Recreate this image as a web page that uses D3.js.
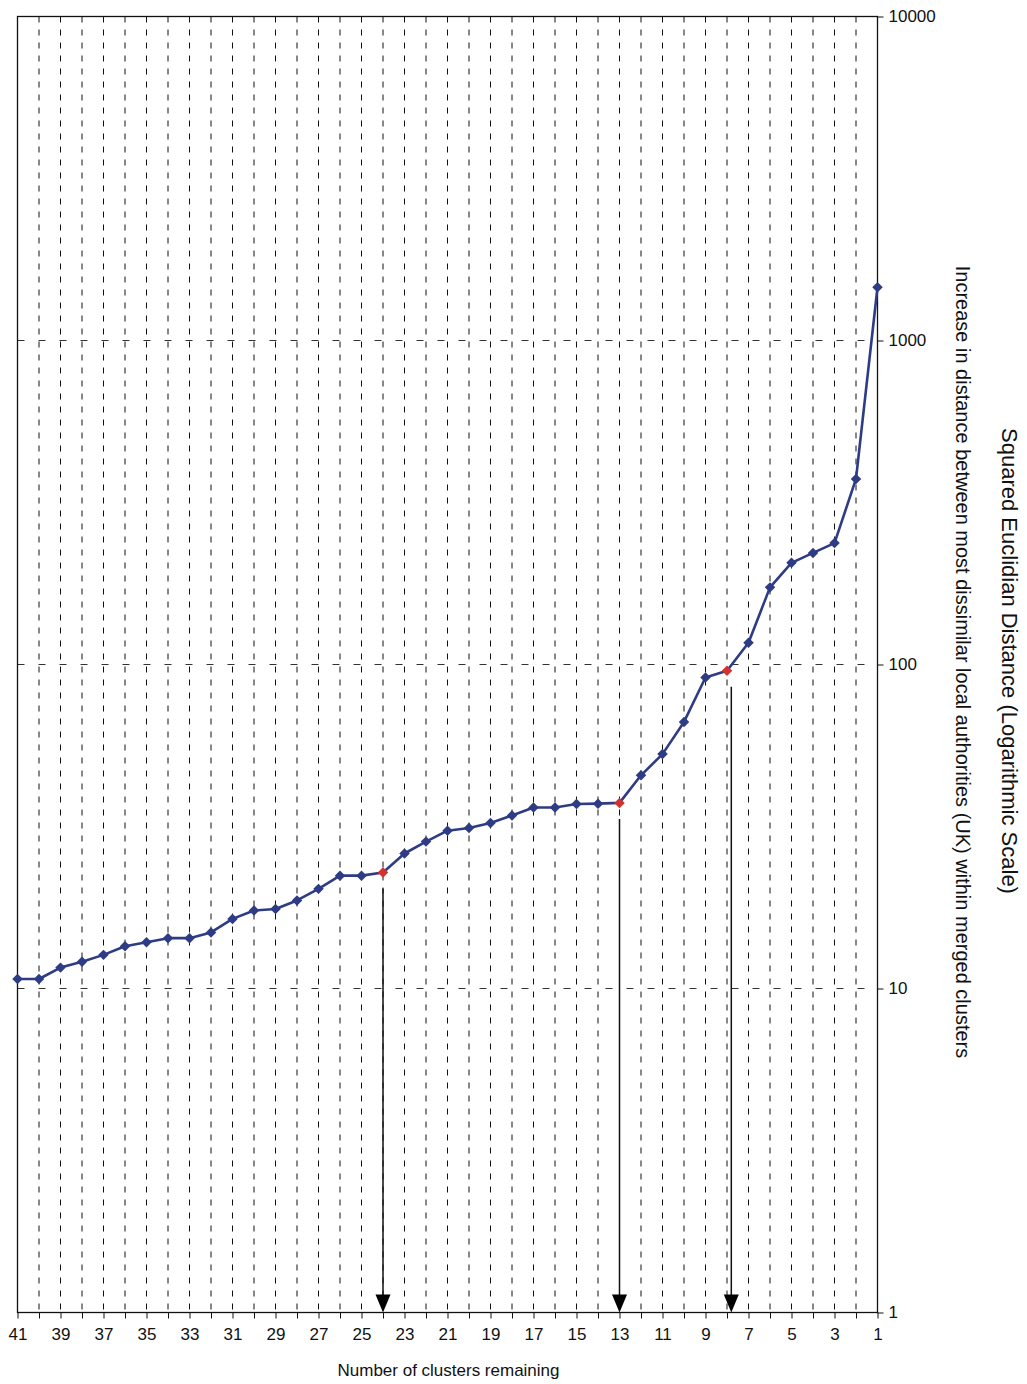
<!DOCTYPE html>
<html lang="en">
<head>
    <meta charset="UTF-8">
    <title>Squared Euclidian Distance by clusters remaining</title>
    <script src="https://d3js.org/d3.v7.min.js"></script>
    <style>
        body { margin: 0; background: #fff; }
        svg { font-family: "Liberation Sans Narrow", "Arial Narrow", "Liberation Sans", sans-serif; }
    </style>
</head>
<body>
    <script>
        // Data (clusters remaining -> distance)
        const clusters = d3.range(41, 0, -1);
        const distances = [10.7, 10.7, 11.6, 12.1, 12.7, 13.5, 13.9, 14.3, 14.3, 14.9,
                           16.4, 17.4, 17.6, 18.7, 20.3, 22.3, 22.3, 22.8, 26.1, 28.4,
                           30.7, 31.3, 32.4, 34.2, 36.2, 36.2, 37.1, 37.2, 37.4, 45.5,
                           52.9, 66.5, 91.2, 95.6, 116.7, 173, 206, 221, 237, 374, 1460];
        const markedClusters = [24, 13, 8];
        const arrowClusters = [24, 13, 7.8];
        const yTicks = [1, 10, 100, 1000, 10000];

        const xTitle = "Number of clusters remaining";
        const yTitle1 = "Squared Euclidian Distance (Logarithmic Scale)";
        const yTitle2 = "Increase in distance between most dissimilar local authorities (UK) within merged clusters";

        const data = clusters.map((n, i) => ({ n: n, v: distances[i] }));

        const width = 1027, height = 1384;
        const plot = { left: 17.5, right: 877.5, top: 16.5, bottom: 1312.5 };

        const svg = d3.select("body").append("svg")
            .attr("width", width)
            .attr("height", height);

        const x = d3.scaleLinear().domain([41, 1]).range([plot.left, plot.right]);
        const y = d3.scaleLog().domain([1, 10000]).range([plot.bottom, plot.top]);

        // vertical gridlines at every cluster count
        svg.append("g")
            .selectAll("line")
            .data(d3.range(2, 41))
            .join("line")
            .attr("x1", d => x(d)).attr("x2", d => x(d))
            .attr("y1", plot.top).attr("y2", plot.bottom)
            .attr("stroke", "#111")
            .attr("stroke-width", 1)
            .attr("stroke-dasharray", "6,7");

        // horizontal gridlines at decades
        svg.append("g")
            .selectAll("line")
            .data([10, 100, 1000])
            .join("line")
            .attr("x1", plot.left).attr("x2", plot.right)
            .attr("y1", d => y(d)).attr("y2", d => y(d))
            .attr("stroke", "#333")
            .attr("stroke-width", 1)
            .attr("stroke-dasharray", "7,14");

        // plot frame
        svg.append("rect")
            .attr("x", plot.left).attr("y", plot.top)
            .attr("width", plot.right - plot.left).attr("height", plot.bottom - plot.top)
            .attr("fill", "none")
            .attr("stroke", "#111")
            .attr("stroke-width", 1.3);

        // x axis
        const xAxis = svg.append("g")
            .attr("transform", `translate(0,${plot.bottom})`)
            .call(d3.axisBottom(x)
                .tickValues(d3.range(1, 42))
                .tickSize(6)
                .tickPadding(9)
                .tickFormat(d => d % 2 === 1 ? d : ""));
        xAxis.select(".domain").remove();
        xAxis.selectAll("line").attr("stroke", "#111");
        xAxis.selectAll("text").attr("font-size", 17).attr("fill", "#111");

        // y axis on the right
        const yAxis = svg.append("g")
            .attr("transform", `translate(${plot.right},0)`)
            .call(d3.axisRight(y)
                .tickValues(yTicks)
                .tickSize(6)
                .tickPadding(5)
                .tickFormat(d3.format("d")));
        yAxis.select(".domain").remove();
        yAxis.selectAll("line").attr("stroke", "#111");
        yAxis.selectAll("text").attr("font-size", 17).attr("fill", "#111");

        // titles
        svg.append("text")
            .attr("x", (plot.left + plot.right) / 2 + 1)
            .attr("y", 1376)
            .attr("text-anchor", "middle")
            .attr("font-size", 17)
            .attr("fill", "#111")
            .text(xTitle);

        svg.append("text")
            .attr("transform", `translate(1009,661) rotate(90)`)
            .attr("text-anchor", "middle")
            .attr("dominant-baseline", "central")
            .attr("font-size", 22)
            .attr("fill", "#111")
            .text(yTitle1);

        svg.append("text")
            .attr("transform", `translate(963,662) rotate(90)`)
            .attr("text-anchor", "middle")
            .attr("dominant-baseline", "central")
            .attr("font-size", 20)
            .attr("fill", "#111")
            .text(yTitle2);

        // arrows from marked points down to the axis
        const arrowHead = 18, arrowHalf = 7.5;
        const arrows = svg.append("g");
        arrowClusters.forEach((c, i) => {
            const v = distances[clusters.indexOf(markedClusters[i])];
            const ax = x(c);
            arrows.append("line")
                .attr("x1", ax).attr("x2", ax)
                .attr("y1", y(v) + 16).attr("y2", plot.bottom - arrowHead + 2)
                .attr("stroke", "#111")
                .attr("stroke-width", 1.5);
            arrows.append("path")
                .attr("d", `M${ax - arrowHalf},${plot.bottom - arrowHead} L${ax + arrowHalf},${plot.bottom - arrowHead} L${ax},${plot.bottom} Z`)
                .attr("fill", "#000");
        });

        // the series line
        const line = d3.line()
            .x(d => x(d.n))
            .y(d => y(d.v));

        svg.append("path")
            .datum(data)
            .attr("fill", "none")
            .attr("stroke", "#2E3B85")
            .attr("stroke-width", 2.6)
            .attr("stroke-linejoin", "round")
            .attr("d", line);

        // diamond markers
        const diamond = d3.symbol().type(d3.symbolDiamond2).size(70);
        svg.append("g")
            .selectAll("path")
            .data(data)
            .join("path")
            .attr("transform", d => `translate(${x(d.n)},${y(d.v)})`)
            .attr("d", diamond)
            .attr("fill", d => markedClusters.includes(d.n) ? "#D2332F" : "#2E3B85");
    </script>
</body>
</html>
